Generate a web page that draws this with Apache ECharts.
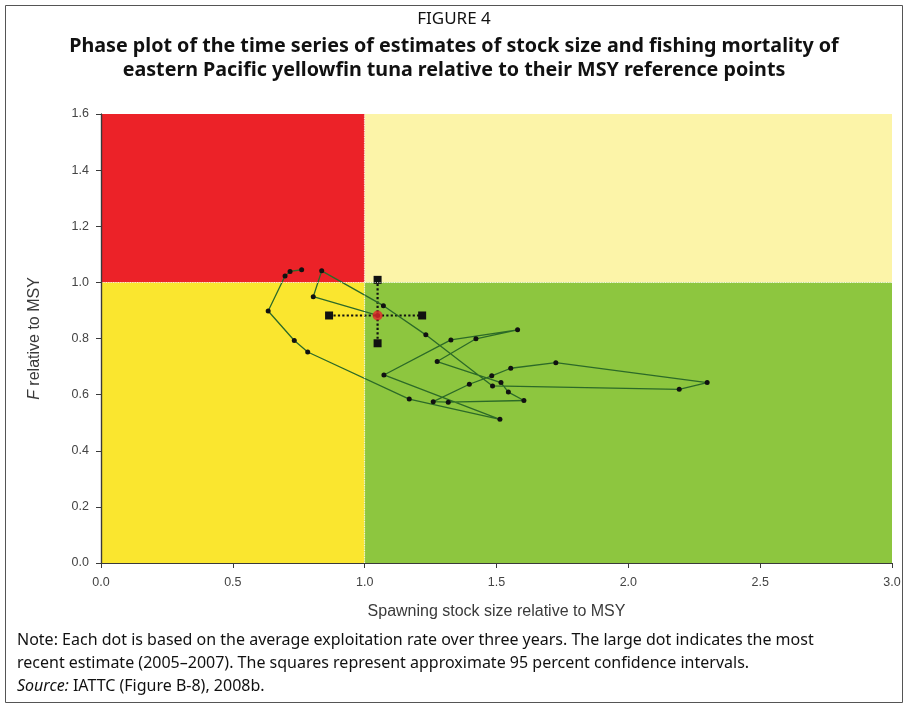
<!DOCTYPE html>
<html>
<head>
<meta charset="utf-8">
<script src="https://cdn.jsdelivr.net/npm/echarts@6/dist/echarts.min.js"></script>
<style>
  html, body { margin: 0; padding: 0; background: #fff; }
  #chart { width: 908px; height: 708px; }
</style>
</head>
<body>
<div id="chart"></div>
<script>
// ==================== DATA ====================
// trajectory, in time order (S / S_MSY, F / F_MSY)
const ssbRel = [0.761, 0.717, 0.698, 0.634, 0.733, 0.784, 1.169, 1.513, 1.073, 1.327,
  1.580, 1.422, 1.275, 1.517, 1.545, 1.604, 1.317, 1.260, 1.397, 1.482,
  1.554, 1.725, 2.299, 2.193, 1.485, 1.232, 1.071, 0.837, 0.805];
const fRel = [1.045, 1.039, 1.023, 0.898, 0.793, 0.752, 0.584, 0.512, 0.670, 0.795,
  0.831, 0.799, 0.718, 0.643, 0.609, 0.579, 0.573, 0.575, 0.637, 0.667,
  0.694, 0.714, 0.643, 0.619, 0.631, 0.813, 0.917, 1.041, 0.949];
// most recent estimate and approx. 95% CI
const currentS = 1.049, currentF = 0.882;
const ciS = [0.865, 1.218];
const ciF = [0.783, 1.009];
// zones: [xFrom, xTo, yFrom, yTo, colour]
const zones = [
  [0, 1, 1, 1.6, '#ec2228'],
  [1, 3, 1, 1.6, '#fcf4a8'],
  [0, 1, 0, 1, '#fae62f'],
  [1, 3, 0, 1, '#8dc63f']
];
const xTicks = ['0.0', '0.5', '1.0', '1.5', '2.0', '2.5', '3.0'];
const yTicks = ['0.0', '0.2', '0.4', '0.6', '0.8', '1.0', '1.2', '1.4', '1.6'];
const noteLines = [
  'Note: Each dot is based on the average exploitation rate over three years. The large dot indicates the most',
  'recent estimate (2005\u20132007). The squares represent approximate 95 percent confidence intervals.',
  '{i|Source:} IATTC (Figure B-8), 2008b.'
];

// ==================== CHART ====================
const chart = echarts.init(document.getElementById('chart'));
const trail = ssbRel.map((s, i) => [s, fRel[i]]).concat([[currentS, currentF]]);
const lblFont = 'Liberation Sans, Arial, sans-serif';
const txtFont = 'Noto Sans, Open Sans, sans-serif';

const noteEls = noteLines.map((t, i) => ({
  type: 'text', left: 17, top: 632 + i * 23,
  style: {
    text: t, fill: '#111', font: '16px ' + txtFont,
    rich: { i: { fontStyle: 'italic', fontSize: 16, fontFamily: txtFont, fill: '#111' } }
  }
}));

chart.setOption({
  backgroundColor: '#fff',
  animation: false,
  grid: { left: 101, right: 16, top: 114, bottom: 145 },
  xAxis: [{
    type: 'value', min: 0, max: 3, interval: 0.5, z: 5,
    name: 'Spawning stock size relative to MSY', nameLocation: 'middle', nameGap: 41,
    nameTextStyle: { fontFamily: lblFont, fontSize: 16, color: '#3a3a3a' },
    axisLine: { show: true, lineStyle: { color: '#3a3a3a', width: 1.2 } },
    axisTick: { show: true, length: 5, lineStyle: { color: '#3a3a3a' } },
    axisLabel: { formatter: v => xTicks[Math.round(v / 0.5)], fontFamily: lblFont, fontSize: 12.5, color: '#444', margin: 13 },
    splitLine: { show: false }
  }, {
    type: 'value', position: 'top', min: 0, max: 3, z: 5,
    axisLine: { show: true, lineStyle: { color: '#3a3a3a', width: 1.2 } },
    axisTick: { show: false }, axisLabel: { show: false }, splitLine: { show: false }
  }],
  yAxis: [{
    type: 'value', min: 0, max: 1.6, interval: 0.2, z: 5,
    name: '{i|F} relative to MSY', nameLocation: 'middle', nameGap: 58,
    nameTextStyle: {
      fontFamily: lblFont, fontSize: 16, color: '#3a3a3a',
      rich: { i: { fontStyle: 'italic', fontFamily: lblFont, fontSize: 16, color: '#3a3a3a' } }
    },
    axisLine: { show: true, lineStyle: { color: '#3a3a3a', width: 1.2 } },
    axisTick: { show: true, length: 5, lineStyle: { color: '#3a3a3a' } },
    axisLabel: { formatter: v => yTicks[Math.round(v / 0.2)], fontFamily: lblFont, fontSize: 12.5, color: '#444', margin: 12 },
    splitLine: { show: false }
  }, {
    type: 'value', position: 'right', min: 0, max: 1.6, z: 5,
    axisLine: { show: true, lineStyle: { color: '#3a3a3a', width: 1.2 } },
    axisTick: { show: false }, axisLabel: { show: false }, splitLine: { show: false }
  }],
  graphic: [
    { type: 'rect', shape: { x: 5.5, y: 5.5, width: 897, height: 697 }, style: { fill: 'none', stroke: '#555', lineWidth: 1 } },
    { type: 'text', x: 454, y: 11, style: { text: 'FIGURE 4', textAlign: 'center', fill: '#111', font: '17px ' + txtFont } },
    { type: 'text', x: 454, y: 36, style: { text: 'Phase plot of the time series of estimates of stock size and fishing mortality of', textAlign: 'center', fill: '#111', font: 'bold 19.7px ' + txtFont } },
    { type: 'text', x: 454, y: 60, style: { text: 'eastern Pacific yellowfin tuna relative to their MSY reference points', textAlign: 'center', fill: '#111', font: 'bold 19.7px ' + txtFont } }
  ].concat(noteEls),
  series: [
    {
      // background zones
      type: 'scatter', data: [], z: 1, silent: true,
      markArea: {
        silent: true,
        data: zones.map(z => [
          { xAxis: z[0], yAxis: z[2], itemStyle: { color: z[4] } },
          { xAxis: z[1], yAxis: z[3] }
        ])
      },
      markLine: {
        silent: true, symbol: 'none', label: { show: false },
        lineStyle: { color: 'rgba(255,255,255,0.75)', type: 'dotted', width: 1.2 },
        data: [
          [{ coord: [1, 0] }, { coord: [1, 1.6] }],
          [{ coord: [0, 1] }, { coord: [3, 1] }]
        ]
      }
    },
    {
      // confidence interval, horizontal
      type: 'line', z: 3, data: [[ciS[0], currentF], [ciS[1], currentF]],
      symbol: 'rect', symbolSize: 8, itemStyle: { color: '#111' },
      lineStyle: { color: '#111', type: 'dotted', width: 2.2 }
    },
    {
      // confidence interval, vertical
      type: 'line', z: 3, data: [[currentS, ciF[0]], [currentS, ciF[1]]],
      symbol: 'rect', symbolSize: 8, itemStyle: { color: '#111' },
      lineStyle: { color: '#111', type: 'dotted', width: 2.2 }
    },
    {
      type: 'line', z: 4, data: trail,
      symbol: 'circle', symbolSize: 5, showAllSymbol: true,
      itemStyle: { color: '#111' },
      lineStyle: { color: '#2c6a28', width: 1.3 }
    },
    {
      type: 'scatter', z: 6, data: [[currentS, currentF]],
      symbolSize: 10, itemStyle: { color: '#e3262b' }
    }
  ]
});
</script>
</body>
</html>
